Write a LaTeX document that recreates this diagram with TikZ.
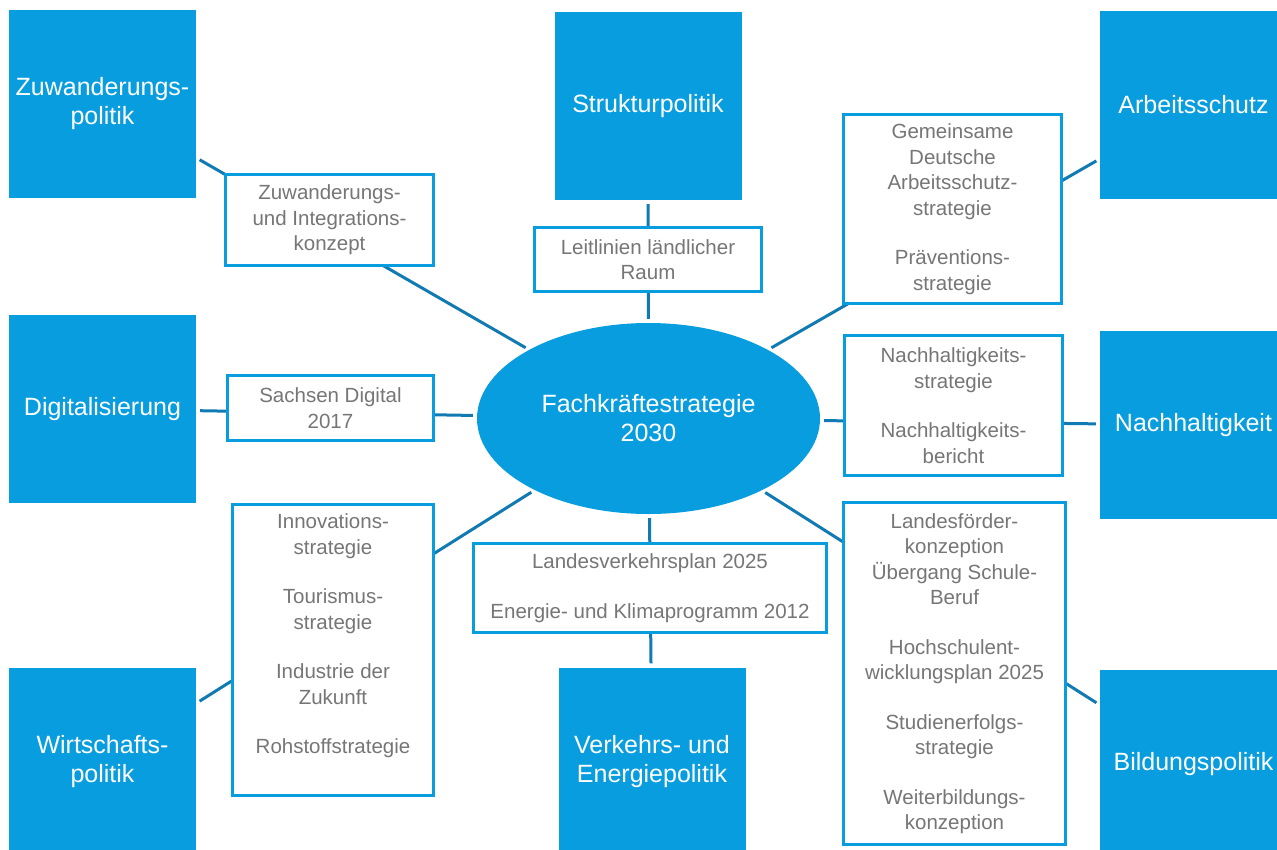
\documentclass[tikz,border=0pt]{standalone}
\usepackage{fontspec}
\setmainfont{Liberation Sans}
\usetikzlibrary{shapes.geometric,backgrounds}
\definecolor{sxblue}{RGB}{8,157,223}
\definecolor{sxline}{RGB}{18,122,178}
\definecolor{sxgrey}{RGB}{118,118,118}

\begin{document}
\begin{tikzpicture}[x=1pt,y=-1pt,
  topic/.style={rectangle,fill=sxblue,text=white,minimum width=187pt,minimum height=188pt,
    inner sep=0pt,align=center,font=\fontsize{25}{29}\selectfont},
  doc/.style={rectangle,draw=sxblue,line width=3.2pt,fill=white,text=sxgrey,inner sep=0pt,
    align=center,font=\fontsize{20.5}{25.5}\selectfont},
  link/.style={draw=sxline,line width=3pt,shorten <=4pt,shorten >=4pt}]
\useasboundingbox (0,0) rectangle (1277,849);
\clip (0,0) rectangle (1277,849);

% centre
\node[ellipse,fill=sxblue,text=white,minimum width=343pt,minimum height=191pt,inner sep=0pt,
  align=center,font=\fontsize{25}{29}\selectfont] (ell) at (648.5,418.5) {Fachkräftestrategie\\2030};

% policy fields
\node[topic] (zuw) at (102.5,104) {Zuwanderungs-\\politik};
\node[topic] (struk) at (648,106) {Strukturpolitik};
\node[topic] (arb) at (1193.5,105) {Arbeitsschutz};
\node[topic] (dig) at (102.5,409) {Digitalisierung};
\node[topic] (nach) at (1193.5,425) {Nachhaltigkeit};
\node[topic] (wirt) at (102.5,762) {Wirtschafts-\\politik};
\node[topic] (verk) at (652,761.5) {Verkehrs- und\\Energiepolitik};
\node[topic] (bild) at (1193.5,764) {Bildungspolitik};

% connectors
\begin{scope}[on background layer]
\path (zuw) edge[link] (ell);
\path (struk) edge[link] (ell);
\path (arb) edge[link] (ell);
\path (dig) edge[link] (ell);
\path (nach) edge[link] (ell);
\path (wirt) edge[link] (ell);
\path (verk) edge[link] (ell);
\path (bild) edge[link] (ell);
\end{scope}

% strategies
\node[doc,minimum width=208pt,minimum height=91pt] (zik) at (329.5,220)
  {Zuwanderungs-\\und Integrations-\\konzept};
\node[doc,minimum width=227pt,minimum height=64pt] (leit) at (648,259.5)
  {Leitlinien ländlicher\\Raum};
\node[doc,minimum width=218pt,minimum height=189pt] (gem) at (952.5,209)
  {Gemeinsame\\Deutsche\\Arbeitsschutz-\\strategie\\[24pt]Präventions-\\strategie};
\node[doc,minimum width=206pt,minimum height=65pt] (sax) at (330.5,408)
  {Sachsen Digital\\2017};
\node[doc,minimum width=218pt,minimum height=140pt] (nhs) at (953.5,405.5)
  {Nachhaltigkeits-\\strategie\\[24pt]Nachhaltigkeits-\\bericht};
\node[doc,minimum width=201pt,minimum height=291pt] (inno) at (333,650)
  {Innovations-\\strategie\\[24pt]Tourismus-\\strategie\\[24pt]Industrie der\\Zukunft\\[24pt]Rohstoffstrategie\\[7pt]\mbox{}};
\node[doc,minimum width=353pt,minimum height=89pt] (lvp) at (650,588)
  {Landesverkehrsplan 2025\\[24pt]Energie- und Klimaprogramm 2012};
\node[doc,minimum width=222pt,minimum height=342pt] (lfk) at (954.5,673.5)
  {Landesförder-\\konzeption\\Übergang Schule-\\Beruf\\[24pt]Hochschulent-\\wicklungsplan 2025\\[24pt]Studienerfolgs-\\strategie\\[24pt]Weiterbildungs-\\konzeption};
\end{tikzpicture}
\end{document}
